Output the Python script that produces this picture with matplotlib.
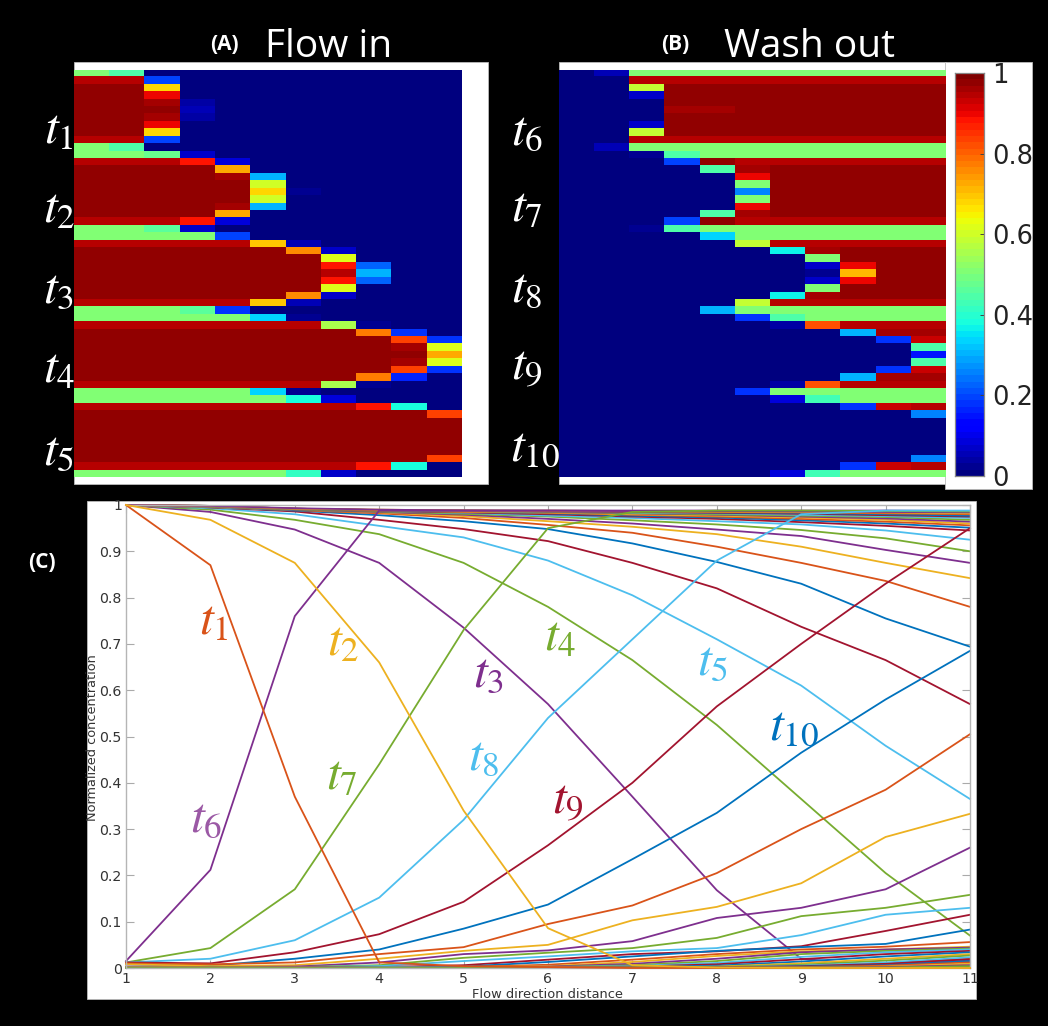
import matplotlib
matplotlib.use("Agg")
import matplotlib.pyplot as plt
from matplotlib.patches import Rectangle
import numpy as np

W, H = 1048, 1026
P, E = .97, .945   # plateau, edge
flow_in = [
 [.50,.45,0,0,0,0,0,0,0,0,0],
 [E,E,.20,0,0,0,0,0,0,0,0],
 [P,P,.68,0,0,0,0,0,0,0,0],
 [P,P,.90,0,0,0,0,0,0,0,0],
 [P,P,.96,.04,0,0,0,0,0,0,0],
 [P,P,P,.05,0,0,0,0,0,0,0],
 [P,P,.96,.04,0,0,0,0,0,0,0],
 [P,P,.90,0,0,0,0,0,0,0,0],
 [P,P,.68,0,0,0,0,0,0,0,0],
 [E,E,.20,0,0,0,0,0,0,0,0],
 [.50,.45,.01,0,0,0,0,0,0,0,0],
 [.50,.50,.48,.07,0,0,0,0,0,0,0],
 [E,E,E,.88,.08,0,0,0,0,0,0],
 [P,P,P,P,.72,.01,0,0,0,0,0],
 [P,P,P,P,.96,.30,0,0,0,0,0],
 [P,P,P,P,P,.60,.01,0,0,0,0],
 [P,P,P,P,P,.68,.02,0,0,0,0],
 [P,P,P,P,P,.60,.01,0,0,0,0],
 [P,P,P,P,.96,.30,0,0,0,0,0],
 [P,P,P,P,.72,.01,0,0,0,0,0],
 [E,E,E,.88,.08,0,0,0,0,0,0],
 [.50,.50,.46,.07,.01,0,0,0,0,0,0],
 [.50,.50,.50,.50,.20,0,0,0,0,0,0],
 [E,E,E,E,E,.70,.06,0,0,0,0],
 [P,P,P,P,P,P,.75,.07,0,0,0],
 [P,P,P,P,P,P,P,.62,.01,0,0],
 [P,P,P,P,P,P,P,.88,.22,0,0],
 [P,P,P,P,P,P,P,.95,.30,0,0],
 [P,P,P,P,P,P,P,.88,.22,0,0],
 [P,P,P,P,P,P,P,.62,.01,0,0],
 [P,P,P,P,P,P,.75,.07,0,0,0],
 [E,E,E,E,E,.70,.05,0,0,0,0],
 [.50,.50,.50,.46,.18,.01,0,0,0,0,0],
 [.50,.50,.50,.50,.50,.33,.02,0,0,0,0],
 [E,E,E,E,E,E,.94,.56,.02,0,0],
 [P,P,P,P,P,P,P,P,.78,.18,0],
 [P,P,P,P,P,P,P,P,P,.84,.18],
 [P,P,P,P,P,P,P,P,P,.96,.62],
 [P,P,P,P,P,P,P,P,P,P,.72],
 [P,P,P,P,P,P,P,P,P,.96,.62],
 [P,P,P,P,P,P,P,P,P,.84,.18],
 [P,P,P,P,P,P,P,P,.78,.17,0],
 [E,E,E,E,E,E,.94,.56,.02,0,0],
 [.50,.50,.50,.50,.50,.33,.02,0,0,0,0],
 [.50,.50,.50,.50,.50,.50,.38,.08,0,0,0],
 [E,E,E,E,E,E,E,E,.88,.38,.01],
 [P,P,P,P,P,P,P,P,P,P,.84],
 [P,P,P,P,P,P,P,P,P,P,P],
 [P,P,P,P,P,P,P,P,P,P,P],
 [P,P,P,P,P,P,P,P,P,P,P],
 [P,P,P,P,P,P,P,P,P,P,P],
 [P,P,P,P,P,P,P,P,P,P,P],
 [P,P,P,P,P,P,P,P,P,P,.84],
 [E,E,E,E,E,E,E,E,.88,.38,.01],
 [.50,.50,.50,.50,.50,.50,.41,.07,0,0,0],
]
wash_out = [
 [0,.05,.50,.50,.50,.50,.50,.50,.50,.50,.50],
 [0,0,E,E,E,E,E,E,E,E,E],
 [0,0,.58,P,P,P,P,P,P,P,P],
 [0,0,.07,P,P,P,P,P,P,P,P],
 [0,0,.01,P,P,P,P,P,P,P,P],
 [0,0,0,.96,.96,P,P,P,P,P,P],
 [0,0,.01,P,P,P,P,P,P,P,P],
 [0,0,.07,P,P,P,P,P,P,P,P],
 [0,0,.58,P,P,P,P,P,P,P,P],
 [0,0,E,E,E,E,E,E,E,E,E],
 [0,.05,.50,.50,.50,.50,.50,.50,.50,.50,.50],
 [0,0,.02,.45,.50,.50,.50,.50,.50,.50,.50],
 [0,0,0,.20,P,E,E,E,E,E,E],
 [0,0,0,0,.44,.96,P,P,P,P,P],
 [0,0,0,0,0,.90,P,P,P,P,P],
 [0,0,0,0,0,.50,P,P,P,P,P],
 [0,0,0,0,0,.25,P,P,P,P,P],
 [0,0,0,0,0,.50,P,P,P,P,P],
 [0,0,0,0,0,.90,P,P,P,P,P],
 [0,0,0,0,.44,.96,P,P,P,P,P],
 [0,0,0,.20,P,E,E,E,E,E,E],
 [0,0,.02,.45,.50,.50,.50,.50,.50,.50,.50],
 [0,0,0,.01,.33,.50,.50,.50,.50,.50,.50],
 [0,0,0,0,0,.58,E,E,E,E,E],
 [0,0,0,0,0,0,.36,.96,P,P,P],
 [0,0,0,0,0,0,0,.50,P,P,P],
 [0,0,0,0,0,0,0,.07,.90,P,P],
 [0,0,0,0,0,0,0,.02,.71,P,P],
 [0,0,0,0,0,0,0,.07,.90,P,P],
 [0,0,0,0,0,0,0,.50,P,P,P],
 [0,0,0,0,0,0,.36,.96,P,P,P],
 [0,0,0,0,0,.58,E,E,E,E,E],
 [0,0,0,.01,.30,.50,.50,.50,.50,.50,.50],
 [0,0,0,0,0,.18,.45,.50,.50,.50,.50],
 [0,0,0,0,0,0,.04,.82,E,E,E],
 [0,0,0,0,0,0,0,0,.30,.96,.96],
 [0,0,0,0,0,0,0,0,0,.18,.93],
 [0,0,0,0,0,0,0,0,0,0,.45],
 [0,0,0,0,0,0,0,0,0,0,.15],
 [0,0,0,0,0,0,0,0,0,0,.45],
 [0,0,0,0,0,0,0,0,0,.18,.93],
 [0,0,0,0,0,0,0,0,.30,.96,.96],
 [0,0,0,0,0,0,.04,.82,E,E,E],
 [0,0,0,0,0,.18,.50,.50,.50,.50,.50],
 [0,0,0,0,0,0,.08,.43,.50,.50,.50],
 [0,0,0,0,0,0,0,0,.18,.93,.95],
 [0,0,0,0,0,0,0,0,0,0,.25],
 [0,0,0,0,0,0,0,0,0,0,0],
 [0,0,0,0,0,0,0,0,0,0,0],
 [0,0,0,0,0,0,0,0,0,0,0],
 [0,0,0,0,0,0,0,0,0,0,0],
 [0,0,0,0,0,0,0,0,0,0,0],
 [0,0,0,0,0,0,0,0,0,0,.25],
 [0,0,0,0,0,0,0,0,.18,.93,.95],
 [0,0,0,0,0,0,.08,.43,.50,.50,.50],
]

distance = [1,2,3,4,5,6,7,8,9,10,11]
falling = [
 [1,.87,.37,.012,.004,.002,0,0,0,0,0],
 [1,.968,.875,.66,.34,.086,.006,.001,0,0,0],
 [1,.985,.947,.875,.735,.57,.37,.168,.02,.004,.002],
 [1,.99,.968,.937,.875,.78,.665,.525,.365,.205,.07],
 [1,.993,.98,.955,.93,.88,.805,.71,.61,.48,.365],
 [1,.995,.986,.968,.948,.922,.875,.82,.737,.665,.57],
 [1,.995,.988,.978,.965,.948,.917,.877,.83,.755,.694],
 [1,.995,.989,.982,.972,.957,.94,.91,.875,.836,.78],
 [1,.996,.99,.984,.976,.965,.953,.937,.91,.875,.842],
 [1,.996,.99,.985,.979,.97,.96,.947,.933,.903,.875],
 [1,.996,.99,.986,.981,.975,.967,.958,.946,.928,.9],
 [1,.996,.99,.987,.983,.977,.972,.965,.958,.945,.925],
 [1,.997,.99,.987,.984,.98,.975,.97,.963,.955,.945],
 [1,.997,.99,.988,.985,.982,.977,.973,.967,.96,.951],
 [1,.997,.991,.988,.985,.983,.979,.975,.97,.964,.956],
 [1,.997,.991,.988,.986,.984,.98,.977,.973,.968,.96],
 [1,.997,.991,.988,.987,.985,.982,.979,.975,.971,.964],
 [1,.997,.991,.988,.987,.985,.983,.98,.977,.974,.968],
 [1,.998,.992,.989,.987,.986,.984,.982,.979,.976,.972],
 [1,.998,.992,.989,.988,.986,.985,.983,.981,.978,.975],
 [1,.998,.992,.989,.988,.987,.986,.984,.983,.98,.977],
 [1,.998,.992,.989,.988,.987,.986,.985,.984,.982,.98],
 [1,.998,.992,.99,.988,.988,.987,.986,.985,.984,.982],
 [1,.998,.993,.99,.988,.988,.987,.987,.986,.985,.984],
]
rising = [
 [.015,.212,.76,.988,.988,.988,.988,.988,.988,.988,.987],
 [.012,.043,.17,.44,.73,.95,.985,.988,.988,.987,.986],
 [.012,.02,.06,.152,.32,.54,.71,.88,.98,.988,.988],
 [.012,.01,.034,.073,.143,.265,.40,.565,.70,.83,.95],
 [.008,.005,.02,.04,.085,.137,.235,.335,.465,.58,.685],
 [.01,.008,.012,.03,.045,.095,.135,.205,.30,.385,.505],
 [.008,.004,.006,.02,.037,.05,.103,.132,.183,.283,.333],
 [.003,.002,.003,.012,.03,.038,.058,.108,.13,.17,.26],
 [.002,.002,.002,.006,.022,.033,.043,.065,.112,.13,.158],
 [.002,.001,.002,.004,.015,.025,.036,.043,.071,.115,.13],
 [.001,.001,.001,.002,.006,.018,.03,.036,.047,.08,.115],
 [.001,.001,.001,.002,.003,.013,.025,.037,.045,.052,.083],
 [.001,.001,.001,.001,.002,.007,.018,.03,.04,.046,.056],
 [.001,.001,.001,.001,.002,.004,.013,.026,.036,.04,.046],
 [0,0,.001,.001,.001,.003,.009,.02,.034,.04,.044],
 [0,0,0,.001,.001,.002,.006,.015,.03,.037,.042],
 [0,0,0,.001,.001,.002,.004,.011,.024,.034,.04],
 [0,0,0,0,.001,.001,.003,.008,.019,.03,.037],
 [0,0,0,0,.001,.001,.002,.005,.014,.025,.034],
 [0,0,0,0,0,.001,.001,.002,.004,.01,.02,],
 [0,0,0,0,0,.001,.001,.003,.01,.02,.03],
 [0,0,0,0,0,0,.001,.001,.003,.007,.016],
 [0,0,0,0,0,0,.001,.002,.007,.016,.027],
 [0,0,0,0,0,0,0,.001,.005,.012,.023],
 [0,0,0,0,0,0,0,.001,.004,.009,.019],
 [0,0,0,0,0,0,0,.001,.003,.006,.015],
 [0,0,0,0,0,0,0,.001,.002,.005,.012],
 [0,0,0,0,0,0,0,0,.001,.003,.009],
 [0,0,0,0,0,0,0,0,.001,.002,.006],
 [0,0,0,0,0,0,0,0,.001,.001,.004],
]
baseline = [0,0,0,0,0,0,0,0,0,0,0]
cycle = ['#0072BD','#D95319','#EDB120','#7E2F8E','#77AC30','#4DBEEE','#A2142F']

plt.rcParams['mathtext.fontset'] = 'stix'
fig = plt.figure(figsize=(W/100, H/100), dpi=100, facecolor='black')

def box(x0, y0, x1, y1, **kw):
    return fig.add_axes([x0/W, 1-y1/H, (x1-x0)/W, (y1-y0)/H], **kw)

def ptext(x, y, s, **kw):
    kw.setdefault('ha', 'center'); kw.setdefault('va', 'center')
    return fig.text(x/W, 1-y/H, s, **kw)

def white(x0, y0, x1, y1):
    fig.add_artist(Rectangle((x0/W, 1-y1/H), (x1-x0)/W, (y1-y0)/H, transform=fig.transFigure,
                             fc='white', ec='#bbbbbb', lw=0.6, zorder=-5))

white(74, 62, 488, 484)
white(559, 62, 946, 484)
white(945, 62, 1032, 489)
white(87, 501, 976, 999)

jet = plt.get_cmap('jet', 64)
for data, rect in ((flow_in, (74, 70, 461, 477)), (wash_out, (559, 70, 945.5, 477))):
    ax = box(*rect)
    ax.imshow(np.array(data), cmap=jet, vmin=0, vmax=1, aspect='auto', interpolation='nearest')
    ax.axis('off')

# colorbar
cax = box(955, 73, 984, 476)
cax.imshow(np.linspace(1, 0, 64)[:, None], cmap=jet, vmin=0, vmax=1, aspect='auto',
           extent=[0, 1, 0, 1], interpolation='nearest')
cax.set_xticks([])
cax.yaxis.tick_right()
cax.set_yticks([0, .2, .4, .6, .8, 1], ['0', '0.2', '0.4', '0.6', '0.8', '1'])
cax.tick_params(axis='y', direction='in', length=3, width=.7, color='#444444', labelsize=18.5,
                labelcolor='#222222', pad=5.7)
for s in cax.spines.values():
    s.set_color('#888888'); s.set_linewidth(.9)

# line panel
lax = box(126, 505, 970, 968)
lax.set_facecolor('white')
k = 0
for i, series in enumerate([baseline] + falling):
    lax.plot(distance, series, color=cycle[k % 7], lw=1.3, clip_on=False, zorder=3 if i in (1, 2) else 2)
    k += 1
k = 3
for series in rising:
    lax.plot(distance, series, color=cycle[k % 7], lw=1.3, clip_on=False, zorder=2); k += 1
lax.set_xlim(1, 11); lax.set_ylim(0, 1)
lax.set_xticks(distance)
lax.set_yticks(np.arange(0, 1.01, .1), ['0', '0.1', '0.2', '0.3', '0.4', '0.5', '0.6', '0.7', '0.8', '0.9', '1'])
lax.tick_params(direction='in', length=6, width=.8, color='#aaaaaa', labelsize=10.2, labelcolor='#333333',
                top=True, right=True, pad=3)
for s in lax.spines.values():
    s.set_color('#b5b5b5'); s.set_linewidth(1)
ptext(548, 995, 'Flow direction distance', fontsize=9.4, color='#333333')
ptext(93, 738, 'Normalized concentration', fontsize=9.3, color='#333333', rotation=90)

# headings
ptext(224, 45, '(A)', color='white', fontsize=15, fontweight='bold', family='Open Sans')
ptext(329, 47, 'Flow in', color='white', fontsize=28, family='Open Sans')
ptext(675, 44, '(B)', color='white', fontsize=15, fontweight='bold', family='Open Sans')
ptext(810, 47, 'Wash out', color='white', fontsize=28, family='Open Sans')
ptext(42, 562, '(C)', color='white', fontsize=15, fontweight='bold', family='Open Sans')

# time labels on the heat maps
for n, x, y in ((1, 59, 129), (2, 59, 208), (3, 59, 288), (4, 59, 368), (5, 59, 450),
                (6, 527, 130), (7, 527, 207), (8, 527, 287), (9, 527, 366)):
    ptext(x, y, f'$t_{{{n}}}$', color='white', fontsize=36)
ptext(535, 446, '$t_{10}$', color='white', fontsize=36)

# time labels on the line panel
for n, x, y, col in ((1, 214, 620, '#D95319'), (2, 343, 641, '#EDB120'), (3, 489, 672, '#7E2F8E'),
                     (4, 560, 636, '#77AC30'), (5, 713, 660, '#4DBEEE'), (6, 206, 817, '#9B59A5'),
                     (7, 342, 775, '#77AC30'), (8, 484, 755, '#4DBEEE'), (9, 568, 800, '#A2142F')):
    ptext(x, y, f'$t_{{{n}}}$', color=col, fontsize=36)
ptext(794, 725, '$t_{10}$', color='#0072BD', fontsize=36)

fig.savefig('out.png', dpi=100, facecolor='black')
